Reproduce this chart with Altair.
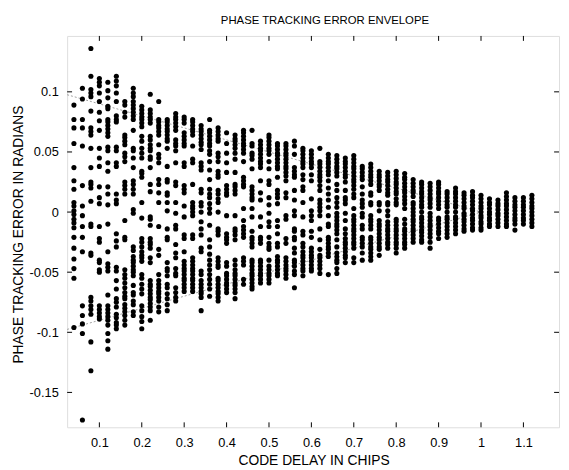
import altair as alt
import pandas as pd

# Phase tracking error (milliradians) read per code-delay column
c04 = [89, 77, 70, 57, 37, 26, 19, 8, 5, 1, -2, -6, -9, -13, -21, -30, -39, -47, -55, -96]
c06 = [103, 94, 77, 70, 55, 22, 5, -3, -12, -21, -33, -78, -86, -93, -101, -173]
c08 = [136, 113, 102, 99, 96, 84, 70, 67, 64, 53, 37, 25, 23, 20, 9, -10, -12, -34, -36, -71, -74, -78, -81, -85, -108, -132]
c10 = [111, 108, 105, 99, 92, 83, 76, 68, 53, 45, 38, 21, 12, 7, -12, -22, -25, -40, -42, -48, -50, -78, -81, -84, -87, -89]
c12 = [108, 101, 95, 88, 86, 77, 75, 72, 69, 66, 63, 54, 51, 41, 34, 21, 15, 6, -10, -33, -43, -46, -49, -69, -78, -81, -84, -87, -90, -94, -101, -107, -114]
c14 = [113, 109, 105, 99, 92, 80, 77, 75, 54, 51, 41, 38, 15, 10, 7, -18, -24, -29, -46, -49, -57, -64, -72, -75, -79, -85, -88, -92, -94, -97]
c16 = [92, 89, 83, 79, 64, 62, 59, 56, 49, 46, 42, 25, 22, 19, 15, -7, -21, -23, -48, -52, -55, -59, -63, -67, -70, -72, -77, -80, -83, -86, -90, -94]
c18 = [103, 99, 96, 92, 89, 86, 83, 80, 77, 68, 53, 51, 45, 37, 26, 23, 19, 15, 2, -1, -29, -32, -37, -40, -42, -45, -48, -50, -53, -61, -67, -69, -74, -77, -83, -86]
c20 = [88, 85, 82, 79, 77, 74, 71, 63, 59, 53, 49, 45, 34, 32, 29, 8, -5, -22, -25, -29, -33, -36, -38, -41, -52, -55, -60, -64, -68, -78, -82, -87, -91, -97]
c22 = [98, 85, 82, 79, 77, 74, 63, 60, 56, 53, 51, 46, 44, 37, 23, 17, -4, -6, -11, -22, -25, -27, -30, -38, -42, -57, -60, -62, -65, -68, -71, -73, -76, -79, -82, -90]
c24 = [92, 77, 75, 72, 70, 67, 64, 56, 48, 45, 41, 27, 23, 16, 8, -12, -31, -36, -52, -57, -60, -63, -66, -68, -71, -74, -79, -83]
c26 = [77, 75, 72, 69, 67, 64, 61, 59, 53, 38, 27, 25, 16, 14, 8, 1, -14, -21, -23, -42, -47, -49, -53, -60, -63, -68, -72, -77, -82]
c28 = [82, 79, 77, 74, 71, 68, 60, 57, 55, 51, 41, 25, 22, 8, -1, -11, -14, -27, -34, -38, -47, -51, -53, -63, -67, -71, -74]
c30 = [79, 77, 74, 66, 63, 60, 57, 55, 41, 38, 22, 19, 16, 5, -4, -19, -22, -33, -41, -44, -47, -49, -52, -55, -57, -60, -63, -66]
c32 = [77, 75, 72, 69, 67, 64, 55, 44, 41, 23, 8, 5, 3, 0, -3, -19, -22, -38, -41, -44, -47, -49, -52, -55, -57, -60, -63, -66]
c34 = [72, 69, 67, 64, 61, 58, 56, 52, 41, 38, 35, 19, 16, 8, 5, 0, -8, -14, -19, -30, -33, -49, -52, -57, -60, -63, -66, -68, -71, -82]
c36 = [77, 68, 66, 63, 60, 57, 55, 51, 48, 42, 35, 27, 19, 15, 12, 7, 3, -1, -11, -23, -29, -35, -40, -44, -48, -52, -56, -60, -64, -70]
c38 = [70, 67, 64, 61, 59, 49, 46, 42, 34, 31, 29, 18, 15, 11, 8, 0, -14, -16, -19, -38, -41, -44, -46, -55, -57, -60, -63, -66, -68, -71, -74]
c40 = [66, 57, 49, 41, 33, 22, 19, 16, 14, -3, -18, -21, -23, -26, -42, -45, -51, -53, -56, -59, -61, -64, -67]
c42 = [64, 61, 59, 56, 53, 49, 44, 33, 23, 21, 18, 15, -3, -14, -16, -19, -23, -40, -44, -48, -51, -53, -56, -59, -61, -64, -67, -72]
c44 = [68, 66, 63, 60, 57, 55, 52, 49, 42, 29, 26, 23, 21, 3, -7, -12, -15, -18, -21, -38, -41, -44, -56, -60]
c46 = [68, 57, 55, 49, 47, 44, 36, 21, 18, 15, 12, 10, 3, -4, -16, -21, -23, -26, -29, -40, -42, -45, -48, -51, -53, -56, -59, -62, -64]
c48 = [59, 56, 53, 51, 48, 45, 42, 40, 37, 26, 16, 10, -4, -12, -21, -23, -26, -40, -42, -45, -48, -51, -53, -56, -59]
c50 = [64, 62, 59, 56, 53, 51, 48, 42, 36, 26, 23, 12, 6, -1, -8, -12, -21, -26, -29, -31, -40, -45, -48, -51, -53, -56, -59]
c52 = [57, 55, 52, 49, 47, 44, 41, 38, 36, 29, 18, 15, 12, 7, -7, -12, -18, -26, -29, -37, -40, -42, -45, -48, -51, -53]
c54 = [57, 55, 52, 49, 47, 44, 41, 38, 36, 33, 30, 26, 16, 12, -3, -6, -22, -26, -38, -41, -44, -47, -49, -52, -55]
c56 = [59, 55, 48, 37, 34, 31, 29, 18, 10, 1, -3, -14, -16, -21, -23, -30, -34, -40, -42, -45, -49, -52, -63]
c58 = [53, 51, 48, 45, 42, 40, 37, 31, 27, 21, 18, 8, -4, -16, -19, -26, -29, -33, -36, -38, -41, -44, -47, -49, -53]
c60 = [51, 48, 45, 42, 40, 37, 31, 26, 11, 1, -3, -7, -16, -21, -30, -33, -36, -38, -41, -44, -47, -49]
c62 = [53, 42, 40, 37, 34, 31, 29, 26, 22, 18, 10, 7, 4, 1, -3, -14, -23, -31, -36, -38, -41, -44, -47, -51]
c64 = [48, 45, 42, 40, 37, 34, 31, 26, 20, 15, 10, 4, -3, -10, -12, -21, -23, -26, -29, -31, -34, -37, -52]
c66 = [47, 44, 41, 38, 36, 33, 30, 23, 18, 12, 8, 4, -1, -4, -7, -10, -12, -15, -18, -23, -29, -34, -37, -40, -42, -47, -51]
c68 = [45, 42, 40, 37, 34, 31, 29, 25, 18, 12, 10, 7, -1, -7, -14, -18, -22, -25, -27, -30, -33, -36, -38, -42]
c70 = [47, 44, 41, 38, 36, 33, 30, 27, 25, 22, 19, 15, 12, 3, -3, -6, -8, -11, -14, -16, -19, -22, -25, -27, -30, -38, -42]
c72 = [38, 36, 33, 30, 27, 21, 15, 10, 7, 4, -1, -4, -11, -14, -21, -23, -26, -29, -34, -40]
c74 = [40, 37, 34, 31, 29, 26, 23, 16, 14, 8, 6, -3, -6, -8, -11, -14, -21, -23, -26, -29, -31, -34, -37, -40]
c76 = [34, 31, 29, 26, 23, 21, 18, 8, 6, 1, -7, -10, -12, -15, -18, -21, -23, -26, -29, -31, -36]
c78 = [33, 30, 27, 25, 22, 19, 16, 14, 8, 6, 1, -3, -8, -11, -14, -16, -19, -22, -25, -27, -30]
c80 = [34, 31, 28, 25, 23, 20, 17, 15, 11, 8, 6, -6, -8, -11, -14, -16, -19, -22, -25, -27, -30, -34]
c82 = [32, 29, 27, 24, 21, 18, 16, 13, 10, 7, 3, -6, -10, -14, -16, -19, -22, -25, -27, -30]
c84 = [27, 24, 21, 18, 16, 13, 8, 6, 3, 0, -3, -6, -8, -11, -14, -16, -19, -22, -25]
c86 = [25, 23, 20, 17, 15, 12, 9, 6, 4, 0, -4, -6, -9, -12, -15, -17, -20, -23, -25]
c88 = [24, 21, 18, 15, 12, 10, 7, 4, -1, -4, -7, -10, -12, -15, -18, -21, -25, -30]
c90 = [25, 23, 20, 17, 15, 12, 9, 6, 3, -5, -7, -10, -13, -16, -18, -22]
c92 = [17, 15, 12, 9, 6, 4, 0, -4, -6, -9, -12, -15, -18, -21]
c94 = [20, 17, 15, 12, 9, 6, 4, 0, -4, -6, -9, -12, -15, -18]
c96 = [16, 14, 11, 8, 5, 3, -1, -3, -6, -8, -11, -14, -16]
c98 = [17, 14, 12, 9, 6, 3, 1, -2, -5, -7, -10, -13, -15]
c100 = [14, 11, 8, 5, 3, 0, -3, -5, -8, -10, -13, -15]
c102 = [11, 8, 6, 3, 0, -2, -5, -7, -10, -12]
c104 = [10, 7, 5, 2, -1, -3, -6, -9, -12]
c106 = [16, 13, 10, 7, 5, 2, -1, -4, -7, -10, -12]
c108 = [12, 9, 6, 4, 1, -2, -5, -7, -10, -15]
c110 = [12, 9, 6, 4, 1, -2, -5, -7, -10]
c112 = [14, 11, 8, 5, 3, 0, -3, -6, -9, -12]

code_delays = [0.04, 0.06, 0.08, 0.10, 0.12, 0.14, 0.16, 0.18, 0.20, 0.22, 0.24, 0.26,
               0.28, 0.30, 0.32, 0.34, 0.36, 0.38, 0.40, 0.42, 0.44, 0.46, 0.48, 0.50,
               0.52, 0.54, 0.56, 0.58, 0.60, 0.62, 0.64, 0.66, 0.68, 0.70, 0.72, 0.74,
               0.76, 0.78, 0.80, 0.82, 0.84, 0.86, 0.88, 0.90, 0.92, 0.94, 0.96, 0.98,
               1.00, 1.02, 1.04, 1.06, 1.08, 1.10, 1.12]
columns = [c04, c06, c08, c10, c12, c14, c16, c18, c20, c22, c24, c26, c28, c30, c32,
           c34, c36, c38, c40, c42, c44, c46, c48, c50, c52, c54, c56, c58, c60, c62,
           c64, c66, c68, c70, c72, c74, c76, c78, c80, c82, c84, c86, c88, c90, c92,
           c94, c96, c98, c100, c102, c104, c106, c108, c110, c112]

# Envelope lines
env_delay = [0.024, 1.0]
env_upper = [0.0976, 0.0]
env_lower = [-0.0976, 0.0]

x_ticks = [0.1, 0.2, 0.3, 0.4, 0.5, 0.6, 0.7, 0.8, 0.9, 1.0, 1.1]
y_ticks = [-0.15, -0.1, -0.05, 0.0, 0.05, 0.1]

rows = []
for d, vals in zip(code_delays, columns):
    for v in vals:
        rows.append({"delay": d, "err": v / 1000.0})
pts = pd.DataFrame(rows)

env = pd.DataFrame(
    [{"delay": d, "err": u, "side": "upper"} for d, u in zip(env_delay, env_upper)]
    + [{"delay": d, "err": l, "side": "lower"} for d, l in zip(env_delay, env_lower)]
)
xt = pd.DataFrame({"delay": x_ticks})
yt = pd.DataFrame({"err": y_ticks})

FONT = "Liberation Sans"
W, H = 499, 397
xscale = alt.Scale(domain=[0.024, 1.184], nice=False, zero=False)
yscale = alt.Scale(domain=[-0.179, 0.1465], nice=False, zero=False)

xaxis = alt.Axis(values=x_ticks, labelExpr="format(datum.value, '~g')", ticks=False,
                 tickSize=0, domain=False, grid=False, labelFont=FONT, labelFontSize=13,
                 labelColor="black", labelPadding=10, labelFlush=False,
                 titleFont=FONT, titleFontSize=14, titleFontWeight="normal",
                 titleColor="black", titleX=250, titleY=38, titleBaseline="alphabetic")
yaxis = alt.Axis(values=y_ticks,
                 labelExpr="datum.value < 0 ? '-' + format(-datum.value, '~g') : format(datum.value, '~g')",
                 ticks=False, tickSize=0, domain=False, grid=False, labelFont=FONT,
                 labelFontSize=13, labelColor="black", labelPadding=9, labelFlush=False,
                 titleFont=FONT, titleFontSize=14,
                 titleFontWeight="normal", titleColor="black", titleX=-49, titleY=201,
                 titleBaseline="middle")

X = lambda: alt.X("delay:Q", scale=xscale, axis=xaxis, title="CODE DELAY IN CHIPS")
Y = lambda: alt.Y("err:Q", scale=yscale, axis=yaxis, title="PHASE TRACKING ERROR IN RADIANS")

envelope = alt.Chart(env).mark_line(color="#8a8a8a", strokeWidth=0.8, strokeDash=[2, 2]).encode(
    x=X(), y=Y(), detail="side:N",
)

dots = alt.Chart(pts).mark_circle(size=27, color="black", opacity=1).encode(x=X(), y=Y())

tick_bottom = alt.Chart(xt).mark_rule(color="black", strokeWidth=1).encode(
    x=X(), y=alt.value(H), y2=alt.value(H - 5))
tick_top = alt.Chart(xt).mark_rule(color="black", strokeWidth=1).encode(
    x=X(), y=alt.value(0), y2=alt.value(5))
tick_left = alt.Chart(yt).mark_rule(color="black", strokeWidth=1).encode(
    y=Y(), x=alt.value(0), x2=alt.value(5))
tick_right = alt.Chart(yt).mark_rule(color="black", strokeWidth=1).encode(
    y=Y(), x=alt.value(W), x2=alt.value(W - 5))

chart = alt.layer(envelope, dots, tick_bottom, tick_top, tick_left, tick_right).properties(
    width=W, height=H,
    title=alt.TitleParams("PHASE TRACKING ERROR ENVELOPE", font=FONT, fontSize=11.5,
                          fontWeight="normal", color="black", anchor="middle", offset=9,
                          dx=12),
    padding={"left": 60, "top": 25, "right": 2, "bottom": 40},
    autosize="none",
).configure_view(stroke="black", strokeWidth=1).configure(background="white")

chart.save("out.html", embed_options={"renderer": "svg", "actions": False})
